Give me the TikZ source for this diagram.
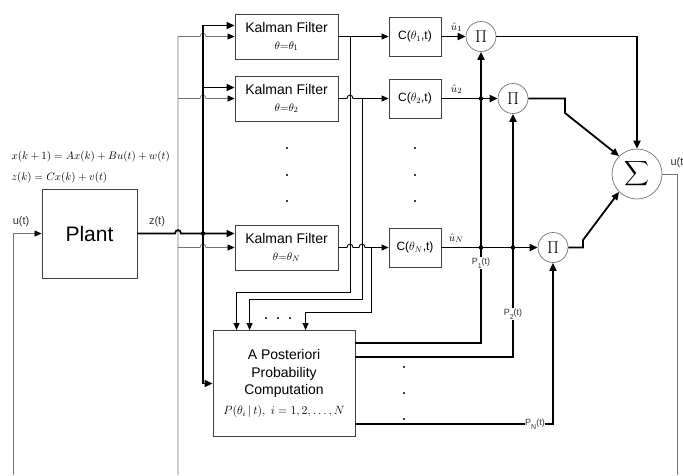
\documentclass[tikz,border=0pt]{standalone}
\usepackage{amsmath}
\usepackage[no-math]{fontspec}
\setmainfont{Liberation Sans}
\usetikzlibrary{arrows.meta, positioning, calc}

% small bump where a line jumps over another one
\newcommand{\hop}[2]{-- (#1-3,#2) .. controls (#1-3,#2-4.5) and (#1+3,#2-4.5) .. (#1+3,#2)}

\begin{document}
\begin{tikzpicture}[x=1pt, y=-1pt,
    block/.style={rectangle, draw=black!75, line width=0.9pt, align=center, inner sep=0pt, font=\fontsize{14}{16}\selectfont},
    cbox/.style={block, minimum width=52pt, minimum height=39pt, font=\fontsize{12}{14}\selectfont},
    kfbox/.style={block, minimum width=103pt, minimum height=45pt},
    mult/.style={circle, draw=black!55, line width=0.7pt, minimum size=30pt, inner sep=0pt, font=\fontsize{19}{20}\selectfont},
    bus/.style={line width=1.8pt, -{Triangle[length=8pt,width=7pt]}},
    sig/.style={line width=0.9pt, -{Triangle[length=7pt,width=6pt]}},
    uline/.style={line width=0.7pt, black!55},
    uarrow/.style={uline, -{Triangle[length=7pt,width=6pt,black]}},
    lbl/.style={font=\fontsize{11}{12}\selectfont, text=black!80},
    plbl/.style={font=\fontsize{9}{10}\selectfont, text=black!80, fill=white, inner sep=0.5pt}
]
\useasboundingbox (0,0) rectangle (683,475);

% plant and model
\node[block, minimum width=95pt, minimum height=89pt, font=\fontsize{21}{24}\selectfont] (plant) at (89.5,233.5) {Plant};
\node[anchor=west, font=\fontsize{11}{12}\selectfont] (eqx) at (8,157) {$x(k+1)=Ax(k)+Bu(t)+w(t)$};
\node[below right=3pt and 0pt of eqx.south west, font=\fontsize{11}{12}\selectfont] (eqz) {$z(k)=Cx(k)+v(t)$};

% filter bank
\node[kfbox] (kf1) at (286.5,36.5) {Kalman Filter\\[1pt] {\fontsize{11}{12}\selectfont$\theta{=}\theta_{1}$}};
\node[kfbox] (kf2) at (286.5,98.5) {Kalman Filter\\[1pt] {\fontsize{11}{12}\selectfont$\theta{=}\theta_{2}$}};
\node[kfbox] (kfN) at (286.5,247.5) {Kalman Filter\\[1pt] {\fontsize{11}{12}\selectfont$\theta{=}\theta_{N}$}};
\node[cbox] (c1) at (415,36.5) {C($\theta_1$,t)};
\node[cbox] (c2) at (415,98.5) {C($\theta_2$,t)};
\node[cbox] (cN) at (415,247.5) {C($\theta_N$,t)};
\node[mult] (pi1) at (481,36.5) {$\Pi$};
\node[mult] (pi2) at (513,98.5) {$\Pi$};
\node[mult] (piN) at (553,247.5) {$\Pi$};
\node[mult, minimum size=50pt, font=\fontsize{17}{20}\selectfont] (sigma) at (637,174) {$\displaystyle\sum$};
\node[block, minimum width=142pt, minimum height=106pt, font=\fontsize{14}{17.5}\selectfont] (app) at (284,383.5)
    {A Posteriori\\Probability\\Computation\\[2pt] {\fontsize{12}{14}\selectfont$P(\theta_i\,|\,t),\ i=1,2,\ldots,N$}};

% vertical dots
\foreach \y in {148,175,201} {
  \fill (287,\y) circle[radius=1.1pt];
  \fill (415,\y) circle[radius=1.1pt];
}
\foreach \y in {367,393,419} \fill (404,\y) circle[radius=1.1pt];
\foreach \x in {266,278,290} \fill (\x,318) circle[radius=1.1pt];

% input u(t) to the plant and to the filters
\coordinate (ubus) at (178,475);
\draw[uarrow] (13,475) |- (plant.west);
\node[lbl] at (21,222) {u(t)};
\draw[uarrow] (ubus) -- (ubus |- kf1.west) \hop{203}{36.5} -- (kf1.west);
\draw[uarrow] (ubus |- kf2.west) \hop{203}{98.5} -- (kf2.west);
\draw[uarrow] (ubus |- kfN.west) \hop{203}{247.5} -- (kfN.west);

% measurement z(t)
\draw[bus] (plant.east) \hop{178}{233.5} -- (kfN.west |- plant.east);
\node[lbl] at (157,222) {z(t)};
\draw[bus] (203,233.5) |- ($(kf1.west)+(0,-11)$);
\draw[bus] (203,87.5) -- ($(kf2.west)+(0,-11)$);
\draw[bus] (203,233.5) |- (app.west);
\fill (203,233.5) circle[radius=2.2pt];

% filter outputs
\draw[sig] (kf1.east) -- (c1.west);
\draw[sig] (350,36.5) -- (350,292) -| ($(app.north west)+(24,0)$);
\draw[sig] (kf2.east) \hop{350}{98.5} -- (c2.west);
\draw[sig] (362,98.5) -- (362,299) -| ($(app.north west)+(37,0)$);
\draw[sig] (kfN.east) \hop{350}{247.5} \hop{362}{247.5} -- (cN.west);
\draw[sig] (371,247.5) -- (371,312) -| ($(app.north west)+(93,0)$);

% controller outputs
\draw[bus] (c1.east) -- (pi1.west);
\draw[bus] (c2.east) -- (pi2.west);
\draw[bus] (cN.east) -- (piN.west);
\node[above right=1pt and 6pt of c1.east, font=\fontsize{11}{12}\selectfont] (uh1) {$\hat{u}_1$};
\node[above right=1pt and 6pt of c2.east, font=\fontsize{11}{12}\selectfont] (uh2) {$\hat{u}_2$};
\node[above right=1pt and 4pt of cN.east, font=\fontsize{11}{12}\selectfont] (uhN) {$\hat{u}_N$};

% probabilities
\draw[bus] ($(app.east)+(0,-40.5)$) -| (pi1.south);
\draw[bus] ($(app.east)+(0,-26.5)$) -| (pi2.south);
\draw[bus] ($(app.east)+(0,40.5)$) -| (piN.south);
\fill (481,98.5) circle[radius=2.2pt];
\fill (481,247.5) circle[radius=2.2pt];
\fill (513,247.5) circle[radius=2.2pt];
\node[plbl] at (481,263) {P\raisebox{-3.5pt}{\fontsize{7}{7}\selectfont 1}(t)};
\node[plbl] at (513,314) {P\raisebox{-3.5pt}{\fontsize{7}{7}\selectfont 2}(t)};
\node[plbl] at (535,424) {P\raisebox{-3.5pt}{\fontsize{7}{7}\selectfont N}(t)};

% weighted sum
\draw[bus] (pi1.east) -| (sigma.north);
\draw[bus] (pi2.east) -- (565,98.5) -- (565,113) -- (sigma.135);
\draw[bus] (piN.east) -- (583,247.5) -- (583,240) -- (sigma.225);
\draw[uline] (sigma.east) -- (677,174) -- (677,475);
\node[lbl, anchor=west] at (667,163) {u(t)};
\end{tikzpicture}
\end{document}
